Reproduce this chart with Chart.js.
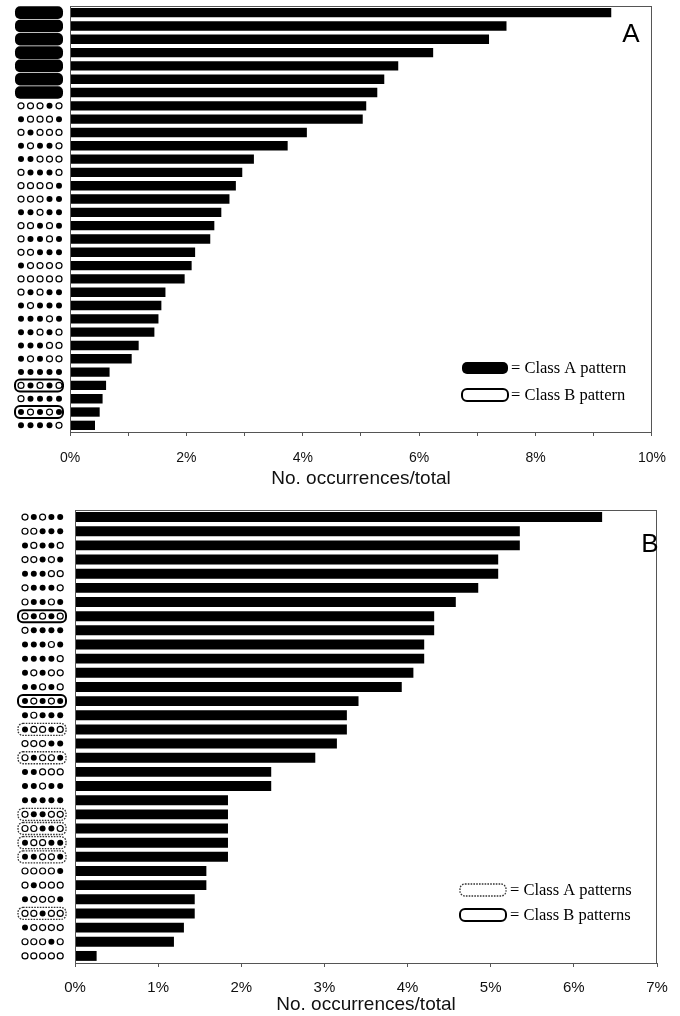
<!DOCTYPE html>
<html><head><meta charset="utf-8">
<script src="https://cdn.jsdelivr.net/npm/chart.js@4.4.0/dist/chart.umd.min.js"></script>
<style>
html,body{margin:0;padding:0;background:#fff;}
#wrapA{position:absolute;left:0;top:0;width:680px;height:495px;}
#wrapB{position:absolute;left:0;top:500px;width:680px;height:516px;}
</style></head><body>
<div id="wrapA"><canvas id="cA"></canvas></div>
<div id="wrapB"><canvas id="cB"></canvas></div>
<script>
// Panel A
const patternsA = ['','','','','','','','00010','10001','01000','10110','11000','01110','00001','00011','11011','00101','01101','00111','10000','00000','01011','10111','11101','11010','11100','10100','11111','01010','01111','10101','11110'];
const classA = ['A','A','A','A','A','A','A','','','','','','','','','','','','','','','','','','','','','','B','','B',''];
const valuesA = [9.3,7.5,7.2,6.24,5.64,5.4,5.28,5.09,5.03,4.07,3.74,3.16,2.96,2.85,2.74,2.6,2.48,2.41,2.15,2.09,1.97,1.64,1.57,1.52,1.45,1.18,1.06,0.68,0.62,0.56,0.51,0.43];
const ticksA = [0,2,4,6,8,10];
// Panel B
const patternsB = ['01011','00111','10110','00101','11100','01110','01101','01010','01111','11101','11110','10100','11010','10101','10111','10010','00011','01001','11000','11011','11111','01100','00110','10011','11001','00001','01000','10001','00100','10000','00010','00000'];
const classB = ['','','','','','','','B','','','','','','B','','A','','A','','','','A','A','A','A','','','','A','','',''];
const valuesB = [6.34,5.35,5.35,5.09,5.09,4.85,4.58,4.32,4.32,4.2,4.2,4.07,3.93,3.41,3.27,3.27,3.15,2.89,2.36,2.36,1.84,1.84,1.84,1.84,1.84,1.58,1.58,1.44,1.44,1.31,1.19,0.26];
const ticksB = [0,1,2,3,4,5,6,7];
const axisTitle = 'No. occurrences/total';

function rr(ctx,x,y,w,h,r){ctx.beginPath();ctx.moveTo(x+r,y);ctx.arcTo(x+w,y,x+w,y+h,r);ctx.arcTo(x+w,y+h,x,y+h,r);ctx.arcTo(x,y+h,x,y,r);ctx.arcTo(x,y,x+w,y,r);ctx.closePath();}
function dots(ctx,pat,x0,dx,y,r){
  for(let i=0;i<pat.length;i++){
    ctx.beginPath();ctx.arc(x0+i*dx,y,r,0,Math.PI*2);
    if(pat[i]==='1'){ctx.fillStyle='#000';ctx.fill();}
    else{ctx.fillStyle='#fff';ctx.fill();ctx.lineWidth=1.2;ctx.strokeStyle='#000';ctx.stroke();}
  }
}
function boxA(ctx,x,y,w,h){
  ctx.save();rr(ctx,x,y,w,h,5);ctx.setLineDash([1.6,1.2]);ctx.lineWidth=1.3;ctx.strokeStyle='#333';ctx.stroke();ctx.restore();
}
function boxB(ctx,x,y,w,h){
  ctx.save();rr(ctx,x,y,w,h,5);ctx.lineWidth=2;ctx.strokeStyle='#000';ctx.stroke();ctx.restore();
}

function makePlugin(cfg){
  return {id:'deco'+cfg.letter, afterDraw(chart){
    const ctx=chart.ctx, ys=chart.scales.y, ca=chart.chartArea;
    ctx.save();
    ctx.strokeStyle='#555';ctx.lineWidth=1;
    ctx.strokeRect(ca.left+0.5,ca.top+0.5,ca.right-ca.left-1,ca.bottom-ca.top);
    cfg.patterns.forEach((p,i)=>{
      const y=ys.getPixelForValue(i);
      const c=cfg.classes[i];
      if(cfg.letter==='A' && c==='A'){
        ctx.fillStyle='#000';rr(ctx,cfg.bx,y-6.3,cfg.bw,12.6,5);ctx.fill();
        return;
      }
      if(c==='A') boxA(ctx,cfg.bx,y-6,cfg.bw,12);
      if(c==='B') boxB(ctx,cfg.bx,y-6,cfg.bw,12);
      dots(ctx,p,cfg.x0,cfg.dx,y,3);
    });
    ctx.fillStyle='#000';ctx.font='26px "Liberation Sans", Arial';ctx.textAlign='center';ctx.textBaseline='middle';
    ctx.fillText(cfg.letter,cfg.lx,cfg.ly);
    ctx.font='16.5px "Liberation Serif", "Times New Roman"';ctx.textAlign='left';
    const L=cfg.legend;
    if(cfg.letter==='A'){
      ctx.fillStyle='#000';rr(ctx,L.x,L.y1-6,L.w,12,5);ctx.fill();
      boxB(ctx,L.x,L.y2-6,L.w,12);
    } else {
      boxA(ctx,L.x,L.y1-6,L.w,12);
      boxB(ctx,L.x,L.y2-6,L.w,12);
    }
    ctx.fillStyle='#000';
    ctx.fillText(L.t1,L.tx,L.y1+1);
    ctx.fillText(L.t2,L.tx,L.y2+1);
    ctx.restore();
  }};
}

function makeChart(id,patterns,values,classes,maxV,padL,padR,padT,axisH,tickPad,titlePadB,fontSize,plug,labelTicks){
  return new Chart(document.getElementById(id),{
    type:'bar',
    data:{labels:patterns,datasets:[{data:values,backgroundColor:'#000',borderWidth:0,barPercentage:0.7,categoryPercentage:1}]},
    options:{indexAxis:'y',responsive:true,maintainAspectRatio:false,animation:false,
      layout:{padding:{left:padL,right:padR,top:padT,bottom:0}},
      plugins:{legend:{display:false},tooltip:{enabled:false}},
      scales:{
        y:{display:false},
        x:{min:0,max:maxV,
          ticks:{stepSize:1,autoSkip:false,maxRotation:0,padding:tickPad,color:'#111',
            font:{family:'"Liberation Sans", Arial',size:fontSize},
            callback:v=>labelTicks.includes(v)?v+'%':''},
          grid:{display:true,drawOnChartArea:false,drawTicks:true,tickLength:4,color:'#555'},
          border:{display:false},
          title:{display:true,text:axisTitle,color:'#111',font:{family:'"Liberation Sans", Arial',size:19},padding:{top:0,bottom:titlePadB}},
          afterFit:s=>{s.height=axisH;}
        }
      }
    },
    plugins:[plug]
  });
}

makeChart('cA',patternsA,valuesA,classA,10,70,21,6,63,14,5,14,makePlugin({
  letter:'A',patterns:patternsA,classes:classA,bx:15,bw:48,x0:21,dx:9.5,lx:631,ly:35,
  legend:{x:462,w:46,y1:368,y2:395,tx:511,t1:'= Class A pattern',t2:'= Class B pattern'}
}),ticksA);

makeChart('cB',patternsB,valuesB,classB,7,75,23,10,53,12,0,15,makePlugin({
  letter:'B',patterns:patternsB,classes:classB,bx:18,bw:48,x0:25,dx:8.8,lx:650,ly:45,
  legend:{x:460,w:46,y1:390,y2:415,tx:510,t1:'= Class A patterns',t2:'= Class B patterns'}
}),ticksB);
</script>
</body></html>
